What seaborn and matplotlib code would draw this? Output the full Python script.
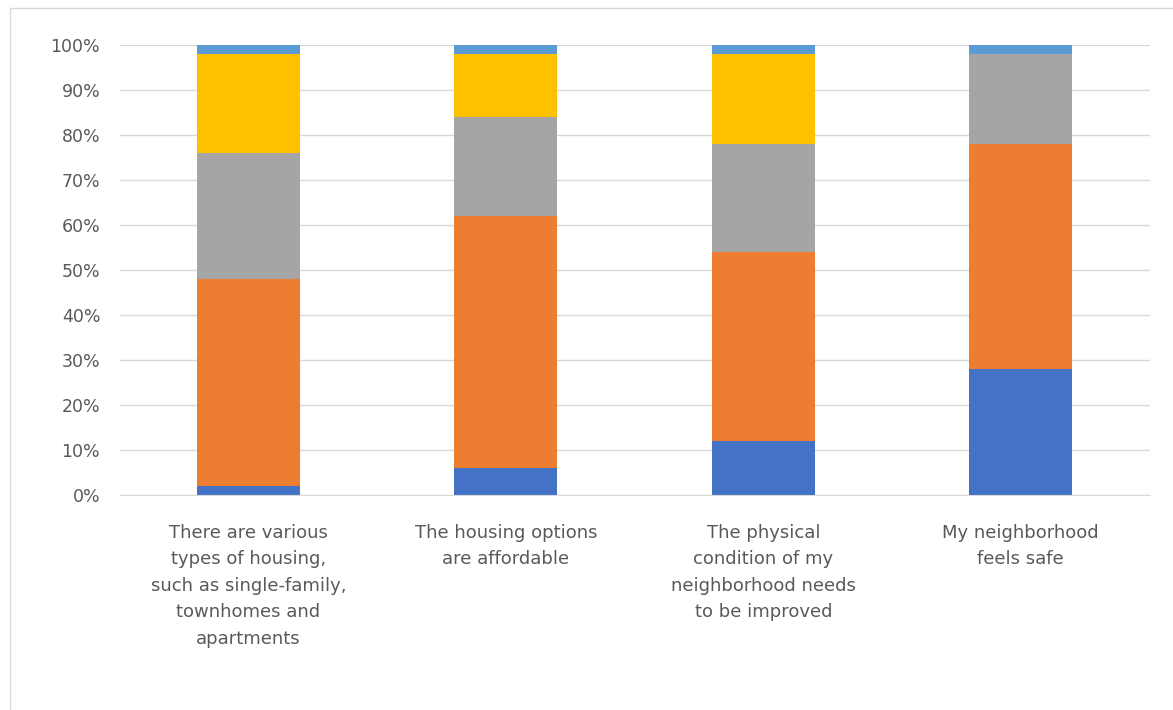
import numpy as np
import pandas as pd
import matplotlib
matplotlib.use("Agg")
import matplotlib.pyplot as plt
import seaborn as sns
from matplotlib.ticker import PercentFormatter

# --- datos (porcentajes por categoría) ---
categorias = [
    "There are various\ntypes of housing,\nsuch as single-family,\ntownhomes and\napartments",
    "The housing options\nare affordable",
    "The physical\ncondition of my\nneighborhood needs\nto be improved",
    "My neighborhood\nfeels safe",
]
serie_1 = [2, 6, 12, 28]      # azul
serie_2 = [46, 56, 42, 50]    # naranja
serie_3 = [28, 22, 24, 20]    # gris
serie_4 = [22, 14, 20, 0]     # amarillo
serie_5 = [2, 2, 2, 2]        # azul claro

series = [serie_1, serie_2, serie_3, serie_4, serie_5]
colores = ["#4472C4", "#ED7D31", "#A5A5A5", "#FFC000", "#5B9BD5"]

df = pd.DataFrame({"categoria": categorias})
acumulado = np.zeros(len(categorias))
for i, s in enumerate(series):
    acumulado = acumulado + np.array(s) / 100.0
    df[f"acum_{i}"] = acumulado

sns.set_style("white")
plt.rcParams["font.family"] = ["DejaVu Sans"]

fig = plt.figure(figsize=(11.73, 7.10), dpi=100)
ax = fig.add_axes([0.102, 0.303, 0.878, 0.634])

# barras apiladas: se dibuja del acumulado mayor al menor
for i in reversed(range(len(series))):
    sns.barplot(data=df, x="categoria", y=f"acum_{i}", color=colores[i],
                width=0.4, saturation=1, linewidth=0, ax=ax, zorder=2)

ax.set_ylim(0, 1.0)
ax.set_yticks(np.arange(0, 1.01, 0.1))
ax.yaxis.set_major_formatter(PercentFormatter(1.0, decimals=0))
ax.grid(axis="y", color="#D9D9D9", linewidth=1, zorder=0)
ax.set_axisbelow(True)
for lado in ["top", "right", "left"]:
    ax.spines[lado].set_visible(False)
ax.spines["bottom"].set_color("#D9D9D9")
ax.set_xlabel("")
ax.set_ylabel("")
ax.tick_params(axis="both", length=0, colors="#595959", labelsize=12.5)
ax.tick_params(axis="x", pad=21)
for lbl in ax.get_xticklabels():
    lbl.set_fontsize(13)
    lbl.set_linespacing(1.6)
    lbl.set_verticalalignment("top")
ax.tick_params(axis="y", pad=14)

# marco del área del gráfico
fig.patches.append(plt.Rectangle((10 / 1173, -0.01), 1.2, 1 - 8 / 710 + 0.01,
                                 transform=fig.transFigure, fill=False,
                                 edgecolor="#D9D9D9", linewidth=1))

fig.savefig("out.png", dpi=100)
